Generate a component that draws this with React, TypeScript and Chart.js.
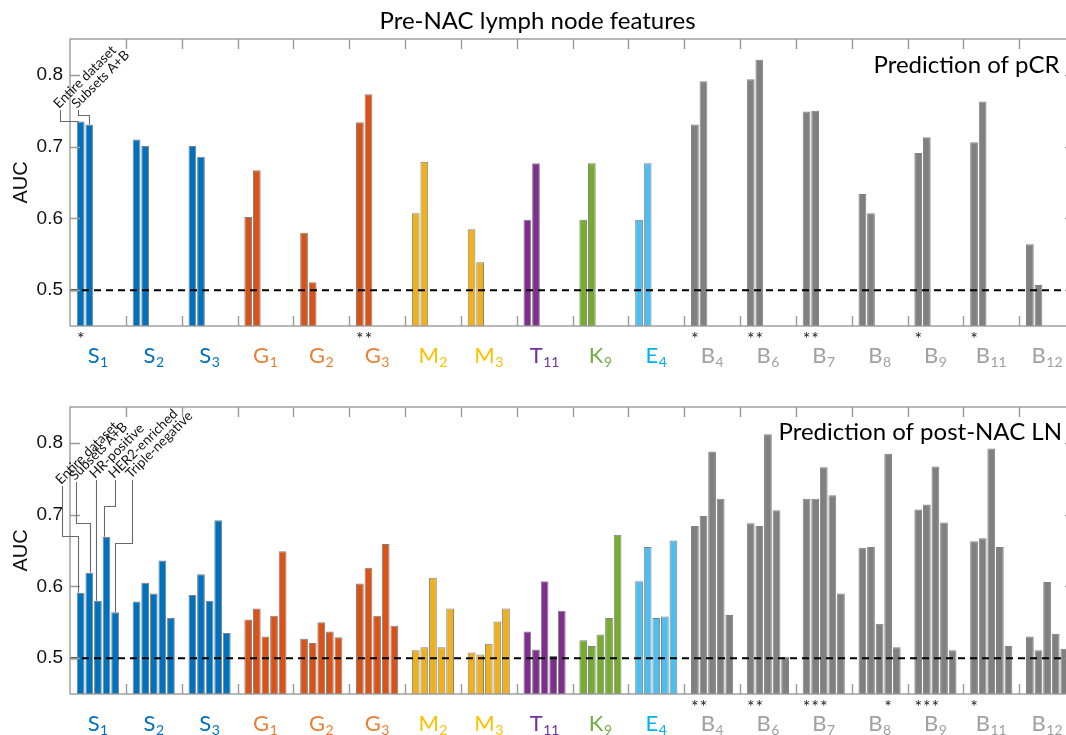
import React, { useEffect, useRef } from 'react';
import { Chart, registerables } from 'chart.js';

Chart.register(...registerables);

// ---------- data ----------
const categories = ['S1', 'S2', 'S3', 'G1', 'G2', 'G3', 'M2', 'M3', 'T11', 'K9', 'E4', 'B4', 'B6', 'B7', 'B8', 'B9', 'B11', 'B12'];
const yTicks = [0.5, 0.6, 0.7, 0.8];
const subgroupNames = ['Entire dataset', 'Subsets A+B', 'HR-positive', 'HER2-enriched', 'Triple-negative'];

// Prediction of pCR
const pcrEntire = [0.735, 0.710, 0.701, 0.602, 0.580, 0.734, 0.607, 0.585, 0.598, 0.598, 0.598, 0.731, 0.794, 0.749, 0.634, 0.691, 0.706, 0.564];
const pcrSubsetsAB = [0.731, 0.701, 0.686, 0.667, 0.511, 0.773, 0.679, 0.539, 0.677, 0.677, 0.677, 0.791, 0.821, 0.750, 0.607, 0.713, 0.763, 0.507];
// subtype subgroups were not assessed for pCR (empty slots)
const pcrNotAssessed = [null, null, null, null, null, null, null, null, null, null, null, null, null, null, null, null, null, null];
const pcrEntireStars = [1, 0, 0, 0, 0, 1, 0, 0, 0, 0, 0, 1, 1, 1, 0, 1, 1, 0];
const pcrSubsetsABStars = [0, 0, 0, 0, 0, 1, 0, 0, 0, 0, 0, 0, 1, 1, 0, 0, 0, 0];

// Prediction of post-NAC LN
const lnEntire = [0.591, 0.579, 0.588, 0.554, 0.527, 0.604, 0.511, 0.508, 0.537, 0.525, 0.607, 0.684, 0.688, 0.722, 0.654, 0.707, 0.663, 0.530];
const lnSubsetsAB = [0.619, 0.605, 0.617, 0.569, 0.521, 0.626, 0.515, 0.505, 0.512, 0.517, 0.655, 0.698, 0.684, 0.722, 0.655, 0.714, 0.667, 0.511];
const lnHRPositive = [0.580, 0.590, 0.580, 0.530, 0.550, 0.559, 0.612, 0.520, 0.607, 0.533, 0.556, 0.788, 0.812, 0.766, 0.548, 0.767, 0.792, 0.606];
const lnHER2Enriched = [0.669, 0.636, 0.692, 0.559, 0.537, 0.659, 0.515, 0.551, 0.503, 0.556, 0.558, 0.722, 0.706, 0.727, 0.785, 0.689, 0.655, 0.534];
const lnTripleNegative = [0.564, 0.556, 0.535, 0.649, 0.529, 0.545, 0.569, 0.569, 0.566, 0.672, 0.664, 0.560, 0.502, 0.590, 0.515, 0.511, 0.517, 0.513];
const lnEntireStars = [0, 0, 0, 0, 0, 0, 0, 0, 0, 0, 0, 1, 1, 1, 0, 1, 1, 0];
const lnSubsetsABStars = [0, 0, 0, 0, 0, 0, 0, 0, 0, 0, 0, 1, 1, 1, 0, 1, 0, 0];
const lnHRPositiveStars = [0, 0, 0, 0, 0, 0, 0, 0, 0, 0, 0, 0, 0, 1, 0, 1, 0, 0];
const lnHER2EnrichedStars = [0, 0, 0, 0, 0, 0, 0, 0, 0, 0, 0, 0, 0, 0, 1, 0, 0, 0];
const lnTripleNegativeStars = [0, 0, 0, 0, 0, 0, 0, 0, 0, 0, 0, 0, 0, 0, 0, 0, 0, 0];

// ---------- styles ----------
const BAR_COLORS: Record<string, string> = {
  S: '#0072BD', G: '#D95319', M: '#EDB120', T: '#7E2F8E', K: '#77AC30', E: '#4DBEEE', B: '#808080',
};
const LABEL_COLORS: Record<string, string> = {
  S: '#0070C0', G: '#ED7D31', M: '#FFC000', T: '#7030A0', K: '#70AD47', E: '#00B0F0', B: '#A0A0A0',
};
const AXIS_COLOR = '#9a9a9a';
const TICK_LEN = 10;
const CAL = 'Lato, "Open Sans", sans-serif';
const ARIAL = '"Liberation Sans", Arial, sans-serif';

type Leader = { ds: number; tdx: number; ty: number; ey: number | null; bdx: number };

const decorPlugin = {
  id: 'panelDecor',
  afterDatasetsDraw(chart: any, _args: any, opts: any) {
    const { ctx, chartArea: a, scales } = chart;
    const xs = scales.x;
    const ys = scales.y;
    ctx.save();

    // chance level
    const y05 = ys.getPixelForValue(0.5);
    ctx.setLineDash([7, 5]);
    ctx.lineWidth = 2;
    ctx.strokeStyle = '#000';
    ctx.beginPath();
    ctx.moveTo(a.left, y05);
    ctx.lineTo(a.right, y05);
    ctx.stroke();
    ctx.setLineDash([]);

    // frame and inward ticks
    ctx.strokeStyle = AXIS_COLOR;
    ctx.lineWidth = 1.4;
    ctx.strokeRect(a.left, a.top, a.right - a.left, a.bottom - a.top);
    ctx.beginPath();
    for (let i = 0; i < categories.length - 1; i++) {
      const px = Math.round((xs.getPixelForValue(i) + xs.getPixelForValue(i + 1)) / 2) + 0.5;
      ctx.moveTo(px, a.top);
      ctx.lineTo(px, a.top + TICK_LEN);
      ctx.moveTo(px, a.bottom);
      ctx.lineTo(px, a.bottom - TICK_LEN);
    }
    yTicks.forEach((v) => {
      const py = Math.round(ys.getPixelForValue(v)) + 0.5;
      ctx.moveTo(a.left, py);
      ctx.lineTo(a.left + TICK_LEN, py);
      ctx.moveTo(a.right, py);
      ctx.lineTo(a.right - TICK_LEN, py);
    });
    ctx.stroke();

    // category labels with subscripts
    ctx.textAlign = 'left';
    ctx.textBaseline = 'alphabetic';
    categories.forEach((c, i) => {
      const letter = c[0];
      const sub = c.slice(1);
      ctx.font = `22px ${CAL}`;
      const w1 = ctx.measureText(letter).width;
      ctx.font = `14px ${CAL}`;
      const w2 = ctx.measureText(sub).width;
      const cx = xs.getPixelForValue(i);
      const x0 = cx - (w1 + w2 + 0.5) / 2;
      const base = a.bottom + 37;
      ctx.fillStyle = LABEL_COLORS[letter];
      ctx.font = `22px ${CAL}`;
      ctx.fillText(letter, x0, base);
      ctx.font = `14px ${CAL}`;
      ctx.fillText(sub, x0 + w1 + 0.5, base + 4);
    });

    // significance stars
    ctx.fillStyle = '#222';
    ctx.font = `18px ${CAL}`;
    ctx.textAlign = 'center';
    (opts.stars as number[][]).forEach((arr, di) => {
      const meta = chart.getDatasetMeta(di);
      arr.forEach((n, i) => {
        if (n > 0) ctx.fillText('*', meta.data[i].x, a.bottom + 19);
      });
    });

    // subgroup annotation with leader lines (first feature group)
    ctx.strokeStyle = '#6a6a6a';
    ctx.lineWidth = 1.1;
    ctx.fillStyle = '#111';
    ctx.font = `13.5px ${CAL}`;
    ctx.textAlign = 'left';
    (opts.leaders as Leader[]).forEach((l) => {
      const bar = chart.getDatasetMeta(l.ds).data[0];
      const bx = bar.x;
      const tx = Math.round(bx + l.tdx) + 0.5;
      const ty = a.top + l.ty;
      const ex = Math.round(bx + l.bdx) + 0.5;
      ctx.beginPath();
      ctx.moveTo(tx, ty);
      if (l.ey !== null) {
        const ey = Math.round(a.top + l.ey) + 0.5;
        ctx.lineTo(tx, ey);
        ctx.lineTo(ex, ey);
        ctx.lineTo(ex, bar.y);
      } else {
        ctx.lineTo(tx, bar.y);
      }
      ctx.stroke();
      ctx.save();
      ctx.translate(tx - 1.5, ty - 1);
      ctx.rotate(-Math.PI / 4);
      ctx.fillText(subgroupNames[l.ds], 0, 0);
      ctx.restore();
    });

    // panel caption
    ctx.fillStyle = '#000';
    ctx.font = `24px ${CAL}`;
    ctx.textAlign = 'right';
    ctx.fillText(opts.caption, a.right - opts.capRight, a.top + opts.capBase);

    ctx.restore();
  },
};

function makeConfig(series: any[], title: string | null, decor: any, padTop: number, padBottom: number) {
  return {
    type: 'bar',
    data: {
      labels: categories,
      datasets: series.map((data, i) => ({
        label: subgroupNames[i],
        data,
        backgroundColor: (c: any) => BAR_COLORS[categories[c.dataIndex][0]],
        borderColor: 'rgba(45,45,45,0.6)',
        borderWidth: 1,
        categoryPercentage: 0.77,
        barPercentage: 0.9,
      })),
    },
    options: {
      responsive: false,
      animation: false,
      layout: { padding: { top: padTop, bottom: padBottom, left: 0, right: 10 } },
      plugins: {
        legend: { display: false },
        tooltip: { enabled: false },
        title: title
          ? {
              display: true,
              text: title,
              color: '#000',
              font: { family: CAL, size: 24, weight: 'normal' },
              padding: { top: 6.6, bottom: 3.6 },
            }
          : { display: false },
        panelDecor: decor,
      },
      scales: {
        x: {
          type: 'category',
          display: false,
          offset: true,
          grid: { display: false },
        },
        y: {
          type: 'linear',
          min: 0.45,
          max: 0.85,
          afterBuildTicks: (s: any) => {
            s.ticks = yTicks.map((v) => ({ value: v }));
          },
          afterFit: (s: any) => {
            s.width = 70;
          },
          ticks: {
            color: '#111',
            padding: 7,
            font: { family: ARIAL, size: 19 },
            callback: (v: any) => Number(v).toFixed(1),
          },
          grid: { display: false, drawTicks: false },
          border: { display: false },
          title: {
            display: true,
            text: 'AUC',
            color: '#111',
            font: { family: ARIAL, size: 20 },
            padding: { top: 9, bottom: 0 },
          },
        },
      },
    },
    plugins: [decorPlugin],
  };
}

export default function App() {
  const topRef = useRef<HTMLCanvasElement>(null);
  const botRef = useRef<HTMLCanvasElement>(null);

  useEffect(() => {
    const top = new Chart(
      topRef.current as HTMLCanvasElement,
      makeConfig(
        [pcrEntire, pcrSubsetsAB, pcrNotAssessed, pcrNotAssessed, pcrNotAssessed],
        'Pre-NAC lymph node features',
        {
          caption: 'Prediction of pCR',
          capRight: 15.5,
          capBase: 34.3,
          stars: [pcrEntireStars, pcrSubsetsABStars],
          leaders: [
            { ds: 0, tdx: -20.4, ty: 71, ey: 81.7, bdx: -3 },
            { ds: 1, tdx: -11.6, ty: 71, ey: 76, bdx: 0 },
          ],
        },
        0,
        42
      ) as any
    );
    const bottom = new Chart(
      botRef.current as HTMLCanvasElement,
      makeConfig(
        [lnEntire, lnSubsetsAB, lnHRPositive, lnHER2Enriched, lnTripleNegative],
        null,
        {
          caption: 'Prediction of post-NAC LN',
          capRight: 13,
          capBase: 33,
          stars: [lnEntireStars, lnSubsetsABStars, lnHRPositiveStars, lnHER2EnrichedStars, lnTripleNegativeStars],
          leaders: [
            { ds: 0, tdx: -18.4, ty: 79, ey: 129, bdx: -3 },
            { ds: 1, tdx: -13.3, ty: 75, ey: 115.7, bdx: 0.7 },
            { ds: 2, tdx: -1.9, ty: 73, ey: null, bdx: -1.9 },
            { ds: 3, tdx: 8.5, ty: 73, ey: 99, bdx: -2.2 },
            { ds: 4, tdx: 16.6, ty: 73, ey: 136.3, bdx: 0 },
          ],
        },
        39,
        41
      ) as any
    );
    return () => {
      top.destroy();
      bottom.destroy();
    };
  }, []);

  return (
    <div
      style={{
        position: 'fixed',
        left: 0,
        top: 0,
        width: 1066,
        height: 735,
        overflow: 'hidden',
        background: '#fff',
      }}
    >
      <canvas ref={topRef} width={1085} height={368} style={{ position: 'absolute', left: 0, top: 0 }} />
      <canvas ref={botRef} width={1085} height={367} style={{ position: 'absolute', left: 0, top: 368 }} />
    </div>
  );
}
